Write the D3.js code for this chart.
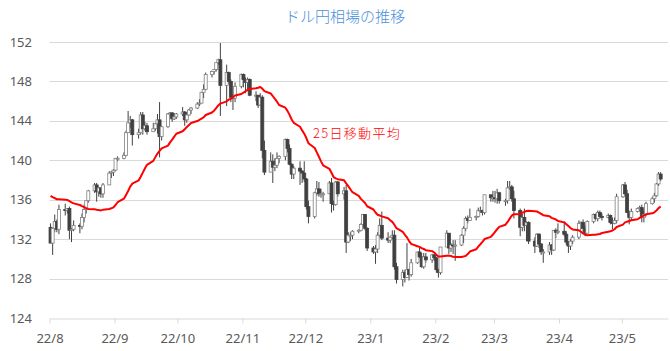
<!DOCTYPE html>
<html>
<head>
<meta charset="utf-8">
<script src="https://cdn.jsdelivr.net/npm/d3@7"></script>
<style>
  body { margin: 0; background: #fff; }
  svg { display: block; }
</style>
</head>
<body>
<svg id="chart" width="670" height="351"></svg>
<script>
// closes before the chart starts (2022/6/28 - 7/29), only used to seed the 25-day average
var seedCloses = [136.1, 136.6, 135.7, 135.2, 135.7, 135.9, 135.9, 136.0, 136.1, 137.4, 137.0, 137.4,
  138.9, 138.6, 138.1, 138.2, 138.2, 137.4, 136.1, 136.7, 136.9, 136.6, 134.2, 133.2];

// [day, open, high, low, close]
var aug22 = [[1,133.2,133.6,131.6,131.6],[2,131.6,133.1,130.4,133.1],[3,133.1,134.5,132.7,133.8],[4,133.8,134.0,132.7,133.0],
  [5,133.0,135.5,132.5,135.0],[8,135.0,135.6,134.4,134.9],[9,134.9,135.1,134.6,135.1],[10,135.1,135.3,132.0,132.9],
  [11,132.9,133.1,131.7,133.0],[12,133.0,133.9,132.8,133.4],[15,133.4,133.6,132.6,133.3],[16,133.3,134.6,133.0,134.2],
  [17,134.2,135.5,133.7,135.0],[18,135.0,135.9,134.6,135.9],[19,135.9,137.0,135.7,136.9],[22,136.9,137.7,136.7,137.5],
  [23,137.5,137.7,135.8,136.8],[24,136.8,137.3,136.3,137.2],[25,137.2,137.2,136.2,136.6],[26,136.6,137.7,136.2,137.5],
  [29,137.5,138.9,137.5,138.7],[30,138.7,138.9,138.2,138.8],[31,138.8,139.1,138.4,139.0]];
var sep22 = [[1,139.0,140.2,138.9,140.2],[2,140.2,140.4,139.9,140.2],[5,140.2,140.8,140.1,140.5],[6,140.5,143.0,140.4,142.8],
  [7,142.8,145.0,142.8,143.8],[8,143.8,144.5,143.3,144.1],[9,144.1,144.2,141.5,142.6],[12,142.6,143.2,142.2,142.8],
  [13,142.8,144.9,142.6,144.6],[14,144.6,144.9,142.6,143.2],[15,143.2,143.9,143.0,143.5],[16,143.5,143.8,142.6,142.9],
  [19,142.9,143.8,142.9,143.2],[20,143.2,143.8,143.0,143.7],[21,143.7,144.7,142.7,144.1],[22,144.1,145.9,140.3,142.4],
  [23,142.4,143.5,142.0,143.4],[26,143.4,144.8,143.3,144.7],[27,144.7,144.9,144.3,144.8],[28,144.8,144.9,143.9,144.2],
  [29,144.2,144.8,144.1,144.4],[30,144.4,144.8,144.2,144.7]];
var oct22 = [[3,144.7,145.4,144.5,144.9],[4,144.9,145.0,143.5,144.1],[5,144.1,144.9,143.8,144.6],[6,144.6,145.2,144.5,145.1],
  [7,145.1,145.4,144.7,145.3],[10,145.3,145.9,145.2,145.7],[11,145.7,146.2,145.5,145.8],[12,145.8,146.9,145.8,146.9],
  [13,146.9,147.7,146.3,147.2],[14,147.2,148.9,147.1,148.7],[17,148.7,149.1,148.4,149.0],[18,149.0,149.2,148.7,149.2],
  [19,149.2,149.9,149.0,149.9],[20,149.9,150.3,149.7,150.2],[21,150.2,151.9,144.5,147.6],[24,147.6,149.7,145.5,148.9],
  [25,148.9,149.0,147.7,148.0],[26,148.0,148.2,145.9,146.4],[27,146.4,146.7,145.1,146.3],[28,146.3,147.9,145.9,147.5],
  [31,147.5,148.8,147.3,148.7]];
var nov22 = [[1,148.7,148.8,147.4,148.2],[2,148.2,148.4,146.8,147.9],[3,147.9,148.4,147.0,148.2],[4,148.2,148.3,146.5,146.6],
  [7,146.6,147.0,146.0,146.6],[8,146.6,146.6,145.3,145.6],[9,145.6,146.8,145.6,146.4],[10,146.4,146.6,140.2,141.0],
  [11,141.0,142.0,138.5,138.8],[14,138.8,140.8,138.8,139.9],[15,139.9,140.6,137.7,139.3],[16,139.3,140.2,138.9,139.5],
  [17,139.5,140.8,139.2,140.2],[18,140.2,140.5,139.7,140.4],[21,140.4,142.2,140.0,142.1],[22,142.1,142.2,140.8,141.2],
  [23,141.2,141.6,139.5,139.6],[24,139.6,139.7,138.1,138.6],[25,138.6,139.4,138.1,139.2],[28,139.2,139.9,137.5,138.9],
  [29,138.9,139.0,137.7,138.7],[30,138.7,139.9,137.8,138.1]];
var dec22 = [[1,138.1,138.2,135.0,135.3],[2,135.3,135.9,133.6,134.3],[5,134.3,136.8,134.1,136.7],[6,136.7,137.9,136.4,137.1],
  [7,137.1,137.8,136.3,136.6],[8,136.6,137.1,136.2,136.6],[9,136.6,136.8,135.8,136.6],[12,136.6,137.9,136.6,137.7],
  [13,137.7,138.2,134.7,135.6],[14,135.6,135.9,134.9,135.5],[15,135.5,137.9,135.4,137.8],[16,137.8,137.9,136.3,136.6],
  [19,136.6,137.3,136.0,136.9],[20,136.9,137.5,130.6,131.7],[21,131.7,132.7,131.6,132.4],[22,132.4,132.7,131.8,132.4],
  [23,132.4,132.9,132.0,132.8],[26,132.8,133.0,132.6,132.9],[27,132.9,133.6,132.8,133.5],[28,133.5,134.5,133.3,134.5],
  [29,134.5,134.5,132.9,133.1],[30,133.1,133.2,130.8,131.1]];
var jan23 = [[2,131.1,131.3,130.5,130.7],[3,130.7,131.4,129.5,131.0],[4,131.0,132.7,130.6,132.4],[5,132.4,134.1,132.2,133.4],
  [6,133.4,134.8,131.9,132.1],[9,132.1,132.7,131.6,131.9],[10,131.9,132.3,131.6,132.2],[11,132.2,132.9,132.0,132.4],
  [12,132.4,132.9,128.9,129.2],[13,129.2,129.6,127.5,127.9],[16,127.9,128.9,127.2,128.6],[17,128.6,128.9,127.6,128.1],
  [18,128.1,131.6,128.1,128.9],[19,128.9,129.0,127.8,128.4],[20,128.4,130.0,128.2,129.6],[23,129.6,130.7,129.5,130.7],
  [24,130.7,131.1,130.1,130.2],[25,130.2,130.6,129.1,129.2],[26,129.2,130.6,129.0,130.2],[27,130.2,130.6,129.6,129.9],
  [30,129.9,130.5,129.6,130.4],[31,130.4,130.5,129.8,130.1]];
var feb23 = [[1,130.1,130.2,128.6,128.9],[2,128.9,129.0,128.1,128.6],[3,128.6,131.2,128.4,131.2],[6,131.2,132.9,131.2,132.6],
  [7,132.6,132.6,130.5,131.1],[8,131.1,131.6,130.7,131.4],[9,131.4,131.9,130.5,131.3],[10,131.3,131.9,129.8,131.4],
  [13,131.4,132.5,131.3,132.4],[14,132.4,133.3,131.6,133.1],[15,133.1,134.3,132.8,134.1],[16,134.1,134.4,133.6,133.9],
  [17,133.9,135.1,133.9,134.2],[20,134.2,134.4,133.9,134.3],[21,134.3,135.2,134.2,134.9],[22,134.9,135.3,134.7,134.9],
  [23,134.9,135.0,134.4,134.7],[24,134.7,136.5,134.5,136.5],[27,136.5,136.5,135.8,136.2],[28,136.2,136.9,135.8,136.2]];
var mar23 = [[1,136.2,136.9,135.7,136.1],[2,136.1,137.1,135.6,136.7],[3,136.7,136.8,135.6,135.9],[6,135.9,136.1,135.4,135.9],
  [7,135.9,137.9,135.6,137.2],[8,137.2,137.9,137.0,137.3],[9,137.3,137.5,135.8,136.1],[10,136.1,136.9,134.1,134.9],
  [13,134.9,135.1,132.3,133.2],[14,133.2,134.6,132.8,134.2],[15,134.2,135.1,132.8,133.4],[16,133.4,133.8,131.8,133.7],
  [17,133.7,133.8,131.5,131.8],[20,131.8,132.2,130.6,131.3],[21,131.3,132.6,131.2,132.5],[22,132.5,132.6,131.1,131.5],
  [23,131.5,131.6,130.4,130.7],[24,130.7,131.0,129.6,130.7],[27,130.7,131.7,130.4,131.4],[28,131.4,131.5,130.4,130.9],
  [29,130.9,132.9,130.8,132.9],[30,132.9,133.1,132.1,132.7],[31,132.7,133.6,132.5,132.8]];
var apr23 = [[3,132.8,133.8,132.3,132.5],[4,132.5,132.8,131.4,131.7],[5,131.7,131.8,130.6,131.3],[6,131.3,132.0,130.9,131.8],
  [7,131.8,132.4,131.5,132.2],[10,132.2,133.9,132.0,133.6],[11,133.6,133.8,133.0,133.7],[12,133.7,134.0,132.7,133.1],
  [13,133.1,133.4,132.3,132.6],[14,132.6,133.9,132.6,133.8],[17,133.8,134.6,133.6,134.5],[18,134.5,134.6,133.9,134.1],
  [19,134.1,134.9,133.8,134.7],[20,134.7,134.9,134.1,134.3],[21,134.3,134.6,133.9,134.2],[24,134.2,134.6,134.1,134.4],
  [25,134.4,134.5,133.5,133.7],[26,133.7,134.2,133.0,133.6],[27,133.6,134.2,133.5,133.9],[28,133.9,136.6,133.6,136.3]];
var may23 = [[1,136.3,137.6,136.2,137.5],[2,137.5,137.8,136.4,136.6],[3,136.6,137.0,134.7,134.7],[4,134.7,134.9,133.5,134.2],
  [5,134.2,135.1,133.9,134.8],[8,134.8,135.2,134.7,135.1],[9,135.1,135.4,134.8,135.2],[10,135.2,135.5,133.7,134.2],
  [11,134.2,134.9,133.7,134.5],[12,134.5,135.8,134.3,135.6],[15,135.6,136.3,135.5,136.1],[16,136.1,136.7,135.7,136.4],
  [17,136.4,137.7,136.3,137.6],[18,137.6,138.8,137.4,138.6],[19,138.6,138.8,137.9,138.1]];

var months = [[2022,8,aug22],[2022,9,sep22],[2022,10,oct22],[2022,11,nov22],[2022,12,dec22],
  [2023,1,jan23],[2023,2,feb23],[2023,3,mar23],[2023,4,apr23],[2023,5,may23]];

var yTicks = [124, 128, 132, 136, 140, 144, 148, 152];
var titleText = "ドル円相場の推移";
var maLabel = "25日移動平均";
var maDays = 25;

var width = 670, height = 351;
var margin = {left: 49.5, right: 2, top: 42, bottom: 33};

// flatten the month tables into one list of candles
var candles = [];
months.forEach(function(m){
  m[2].forEach(function(r){
    candles.push({date: new Date(m[0], m[1] - 1, r[0]), open: r[1], high: r[2], low: r[3], close: r[4]});
  });
});

// 25-day moving average of the close
var closes = seedCloses.concat(candles.map(function(d){ return d.close; }));
candles.forEach(function(d, i){
  var end = seedCloses.length + i + 1;
  d.ma = d3.mean(closes.slice(end - maDays, end));
});

var svg = d3.select("#chart");

var x = d3.scaleTime()
  .domain([new Date(2022, 7, 1), new Date(2023, 4, 23)])
  .range([margin.left, width - margin.right]);
var y = d3.scaleLinear()
  .domain([124, 152])
  .range([height - margin.bottom, margin.top]);

var dayW = x(new Date(2022, 7, 2)) - x(new Date(2022, 7, 1));
var cx = function(d){ return x(d.date) + dayW / 2; };

// gridlines
svg.append("g")
  .selectAll("line")
  .data(yTicks.slice(1))
  .join("line")
  .attr("x1", margin.left).attr("x2", width - margin.right)
  .attr("y1", function(d){ return Math.round(y(d)) + 0.5; })
  .attr("y2", function(d){ return Math.round(y(d)) + 0.5; })
  .style("stroke", "#d9d9d9")
  .style("stroke-width", 1);

// y labels
svg.append("g")
  .selectAll("text")
  .data(yTicks)
  .join("text")
  .attr("x", 32)
  .attr("y", function(d){ return y(d); })
  .attr("dy", "0.35em")
  .attr("text-anchor", "end")
  .style("font-family", "'Noto Sans', sans-serif")
  .style("font-size", "13px")
  .style("fill", "#595959")
  .text(function(d){ return d; });

// x axis
var xAxis = d3.axisBottom(x)
  .ticks(d3.timeMonth.every(1))
  .tickFormat(d3.timeFormat("%y/%-m"))
  .tickSize(5)
  .tickSizeOuter(0);
var gx = svg.append("g")
  .attr("transform", "translate(0," + (Math.round(y(124)) + 0.5) + ")")
  .call(xAxis);
gx.select(".domain").style("stroke", "#d9d9d9");
gx.selectAll(".tick line").style("stroke", "#d9d9d9");
gx.selectAll(".tick text")
  .attr("y", 15)
  .style("font-family", "'Noto Sans', sans-serif")
  .style("font-size", "13px")
  .style("fill", "#595959");

// candles
var gC = svg.append("g");
gC.selectAll("line")
  .data(candles)
  .join("line")
  .attr("x1", cx).attr("x2", cx)
  .attr("y1", function(d){ return y(d.high); })
  .attr("y2", function(d){ return y(d.low); })
  .style("stroke", "#404040")
  .style("stroke-width", 1);

gC.selectAll("rect")
  .data(candles)
  .join("rect")
  .attr("x", function(d){ return cx(d) - 1.5; })
  .attr("y", function(d){ return y(Math.max(d.open, d.close)); })
  .attr("width", 3)
  .attr("height", function(d){ return Math.max(1, Math.abs(y(d.open) - y(d.close))); })
  .style("fill", function(d){ return d.close >= d.open ? "#ffffff" : "#404040"; })
  .style("stroke", function(d){ return d.close >= d.open ? "#808080" : "#404040"; })
  .style("stroke-width", 0.8);

// moving average line
var line = d3.line()
  .x(cx)
  .y(function(d){ return y(d.ma); });
svg.append("path")
  .datum(candles)
  .attr("d", line)
  .style("fill", "none")
  .style("stroke", "#ff0000")
  .style("stroke-width", 2)
  .style("stroke-linejoin", "round");

svg.append("text")
  .attr("x", 313)
  .attr("y", 133)
  .attr("dy", "0.35em")
  .style("font-family", "'Noto Sans CJK JP', sans-serif")
  .style("font-size", "13px")
  .style("font-weight", 300)
  .style("letter-spacing", "1.3px")
  .style("fill", "#ff0000")
  .text(maLabel);

// title
svg.append("text")
  .attr("x", 345)
  .attr("y", 17)
  .attr("dy", "0.35em")
  .attr("text-anchor", "middle")
  .style("font-family", "'Noto Sans CJK JP', sans-serif")
  .style("font-size", "15px")
  .style("font-weight", 300)
  .style("fill", "#4a90d9")
  .text(titleText);
</script>
</body>
</html>
